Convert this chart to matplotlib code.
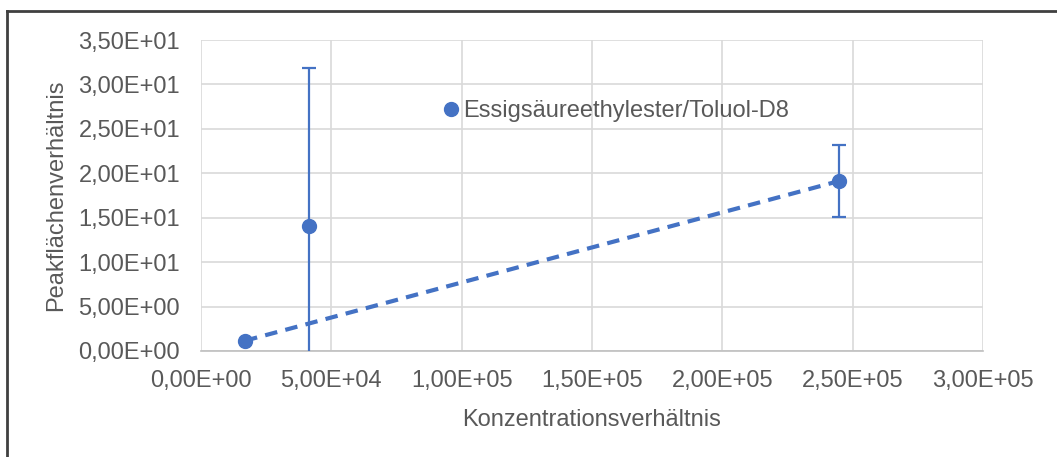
import numpy as np
import matplotlib.pyplot as plt
from matplotlib.lines import Line2D
from matplotlib.ticker import FuncFormatter

plt.rcParams['font.family'] = ['Liberation Sans', 'DejaVu Sans']

# Konzentrationsverhaeltnis / Peakflaechenverhaeltnis
konz = [1.69e4, 4.14e4, 2.448e5]
peak = [1.16, 14.07, 19.13]
fehler = [0.0, 17.8, 4.06]
# Trendlinie ueber erstes und letztes Messpunktpaar
trend_x = [konz[0], konz[2]]
trend_y = [peak[0], peak[2]]

blau = '#4472C4'
grau = '#595959'

def excel_fmt(v, pos):
    s = '%.2E' % v
    return s.replace('.', ',')

fig = plt.figure(figsize=(10.57, 4.57), dpi=100)
ax = fig.add_axes([201/1057, 1-351/457, 782/1057, 311/457])

ax.errorbar(konz[1:], peak[1:], yerr=fehler[1:], fmt='none', ecolor=blau,
            elinewidth=1.6, capsize=5, capthick=1.6, zorder=3)
ax.plot(konz, peak, 'o', color=blau, markersize=10, zorder=4)

m, b = np.polyfit(trend_x, trend_y, 1)
xs = np.array([konz[0], konz[2]])
ax.plot(xs, m*xs + b, '--', color=blau, lw=3, dashes=(3, 2), zorder=2)

ax.set_xlim(0, 3e5)
ax.set_ylim(0, 35)
ax.set_xticks(np.arange(0, 3.01e5, 5e4))
ax.set_yticks(np.arange(0, 35.1, 5))
ax.xaxis.set_major_formatter(FuncFormatter(excel_fmt))
ax.yaxis.set_major_formatter(FuncFormatter(excel_fmt))
ax.grid(True, color='#d9d9d9', lw=1.2)
ax.set_axisbelow(True)
for s in ['top', 'right', 'left']:
    ax.spines[s].set_visible(False)
ax.spines['bottom'].set_color('#bfbfbf')
ax.spines['bottom'].set_linewidth(1.2)
ax.tick_params(length=0, labelsize=17, labelcolor=grau)
ax.tick_params(axis='x', pad=14)
ax.tick_params(axis='y', pad=15)

ax.set_xlabel('Konzentrationsverhältnis', fontsize=17, color=grau, labelpad=12)
ax.set_ylabel('Peakflächenverhältnis', fontsize=17, color=grau, labelpad=8)

handle = Line2D([], [], marker='o', color=blau, ls='none', markersize=10)
ax.legend([handle], ['Essigsäureethylester/Toluol-D8'], loc='center left',
          bbox_to_anchor=(0.31, 0.772), frameon=False, fontsize=17,
          handlelength=0.6, handletextpad=0.25, labelcolor=grau,
          borderaxespad=0, borderpad=0)

# Rahmen oben und links
fig.add_artist(Line2D([7/1057, 1], [1-11/457, 1-11/457], color='#404040', lw=2))
fig.add_artist(Line2D([7/1057, 7/1057], [0, 1-11/457], color='#404040', lw=2))

fig.savefig('out.png', dpi=100)
